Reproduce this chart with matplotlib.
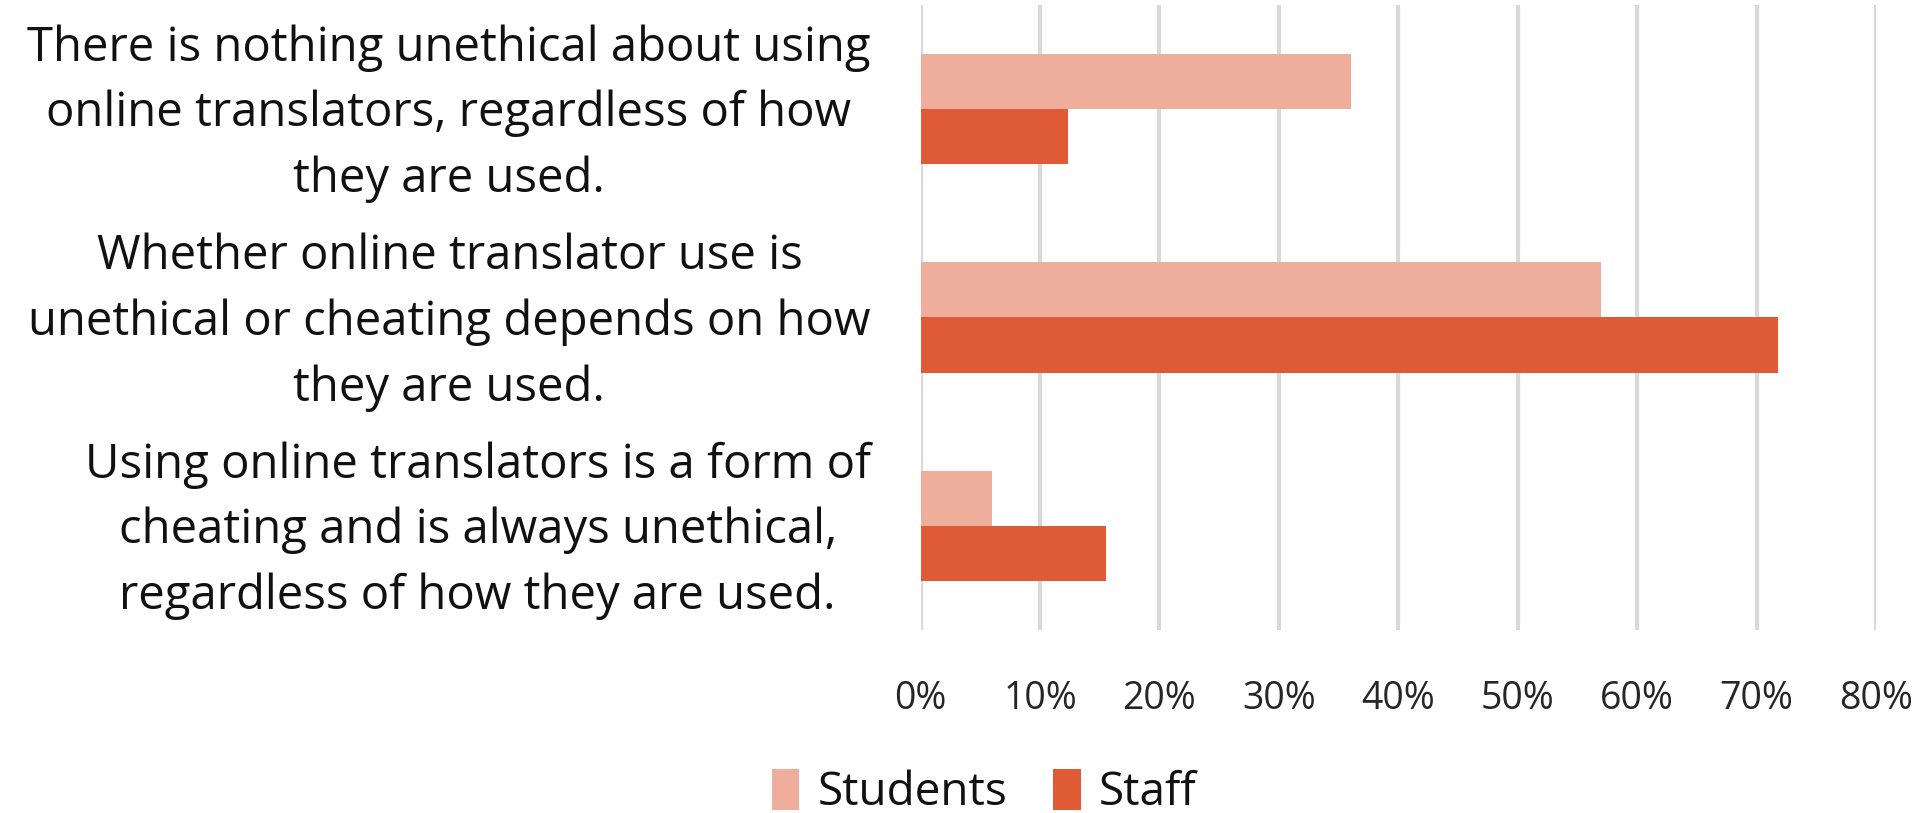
import numpy as np
import matplotlib.pyplot as plt
import matplotlib.transforms as mtransforms
from matplotlib.ticker import PercentFormatter

categories = [
    "There is nothing unethical about using\nonline translators, regardless of how\nthey are used.",
    "Whether online translator use is\nunethical or cheating depends on how\nthey are used.",
    "Using online translators is a form of\ncheating and is always unethical,\nregardless of how they are used.",
]
students = [36, 57, 6]
staff = [12.3, 71.8, 15.5]
xticks = [0, 10, 20, 30, 40, 50, 60, 70, 80]

plt.rcParams['font.family'] = ['Open Sans', 'DejaVu Sans']

fig = plt.figure(figsize=(19.26, 8.13), dpi=100)
ax = fig.add_axes([0.478, 0.225, 0.496, 0.769])

y = np.arange(len(categories))
h = 0.265
ax.barh(y - h / 2, students, height=h, color='#EFAE9B', label='Students', zorder=3)
ax.barh(y + h / 2, staff, height=h, color='#DE5B36', label='Staff', zorder=3)

ax.set_ylim(len(categories) - 0.5, -0.5)
ax.set_xlim(0, 80)
ax.set_xticks(xticks)
ax.xaxis.set_major_formatter(PercentFormatter(decimals=0))
ax.set_yticks(y)
ax.set_yticklabels(categories, fontsize=34, multialignment='center',
                   color='#111111', linespacing=1.5)
ax.tick_params(axis='y', length=0, pad=36)
ax.tick_params(axis='x', length=0, pad=36, labelsize=27, labelcolor='#262626')
ax.grid(axis='x', color='#D9D9D9', linewidth=3, zorder=0)
for s in ax.spines.values():
    s.set_visible(False)

# nudge the category labels up a little
shift = mtransforms.ScaledTranslation(0, 0.1, fig.dpi_scale_trans)
for lbl in ax.get_yticklabels():
    lbl.set_transform(lbl.get_transform() + shift)

fig.legend(loc='center', bbox_to_anchor=(0.511, 0.025), ncol=2, frameon=False,
           fontsize=33, handlelength=0.6, handleheight=1.0, columnspacing=1.0,
           handletextpad=0.4, labelcolor='#111111')

fig.savefig('out.png', dpi=100)
